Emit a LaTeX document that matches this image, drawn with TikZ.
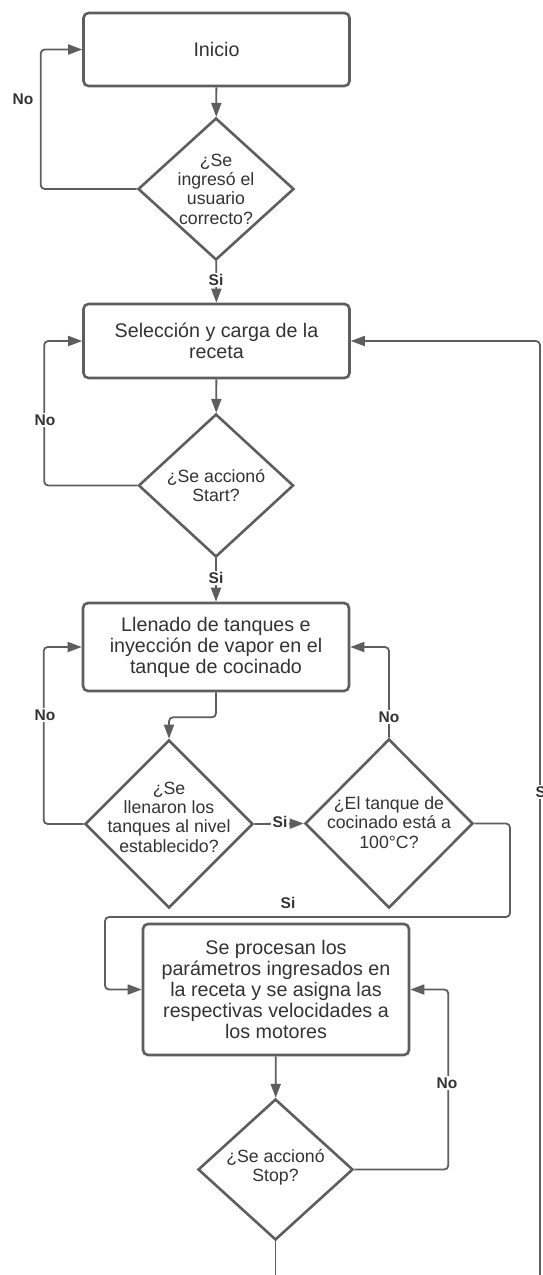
\documentclass[tikz,border=0pt]{standalone}
\usepackage{fontspec}
\setmainfont{Liberation Sans}
\usetikzlibrary{shapes.geometric,arrows.meta}
\definecolor{ln}{HTML}{5E5E5E}
\definecolor{tx}{HTML}{333333}
\begin{document}
\begin{tikzpicture}[x=1pt,y=-1pt,
  procbox/.style={draw=ln, line width=2.6pt, rounded corners=5pt, fill=white, text=tx,
    align=center, minimum width=266pt, inner sep=0pt,
    font=\fontsize{19.7}{21}\selectfont},
  decision/.style={draw=ln, line width=2.6pt, diamond, inner sep=0pt, fill=white},
  dtext/.style={text=tx, align=center, inner sep=0pt,
    font=\fontsize{17.7}{19.3}\selectfont},
  flow/.style={draw=ln, line width=1.8pt, rounded corners=4pt,
    -{Triangle[length=14pt,width=10pt]}},
  plain/.style={draw=ln, line width=1.8pt, rounded corners=4pt},
  lbl/.style={text=tx, fill=white, inner sep=1.5pt,
    font=\bfseries\fontsize{15.5}{17}\selectfont},
]
\fill[white] (0,0) rectangle (542,1275);
\clip (0,0) rectangle (542,1275);

% process boxes
\node[procbox, minimum height=73pt] (b1) at (216.5,49.5) {Inicio};
\node[procbox, minimum height=74pt] (b2) at (216.5,341) {Selección y carga de la\\receta};
\node[procbox, minimum height=88pt] (b3) at (216,647) {Llenado de tanques e\\inyección de vapor en el\\tanque de cocinado};
\node[procbox, minimum height=131pt] (b4) at (276,989.5) {Se procesan los\\parámetros ingresados en\\la receta y se asigna las\\respectivas velocidades a\\los motores};

% decisions
\node[decision, minimum width=156pt, minimum height=142pt] (d1) at (216,189) {};
\node[dtext] (t1) at (d1) {¿Se\\ingresó el\\usuario\\correcto?};
\node[decision, minimum width=155pt, minimum height=143pt] (d2) at (216,485.5) {};
\node[dtext] (t2) at (d2) {¿Se accionó\\Start?};
\node[decision, minimum width=168pt, minimum height=168pt] (d3) at (169,824) {};
\node[dtext, yshift=7pt] (t3) at (d3) {¿Se\\llenaron los\\tanques al nivel\\establecido?};
\node[decision, minimum width=168pt, minimum height=169pt] (d4) at (389,823.5) {};
\node[dtext, yshift=1pt] (t4) at (d4) {¿El tanque de\\cocinado está a\\100°C?};
\node[decision, minimum width=155pt, minimum height=141pt] (d5) at (275.5,1169.5) {};
\node[dtext, yshift=2pt] (t5) at (d5) {¿Se accionó\\Stop?};

% free ends and bends
\coordinate (c1) at (510,917);
\coordinate (c2) at (105,917);
\coordinate (endstop) at (275.5,1285);
\coordinate (endright) at (540,1285);

% connectors
\draw[flow] (b1) -- (d1);
\draw[flow] (d1.west) -- ++(-96,0) |- (b1.west);
\draw[flow] (d1) -- (b2);
\draw[flow] (b2) -- (d2);
\draw[flow] (d2.west) -- ++(-93,0) |- (b2.west);
\draw[flow] (d2) -- (b3);
\draw[flow] (b3.south) -- ++(0,25) -| (d3.north);
\draw[flow] (d3.west) -- ++(-40,0) |- (b3.west);
\draw[flow] (d3.east) -- (d4.west);
\draw[flow] (d4.north) |- (b3.east);
\draw[flow] (d4.east) -| (c1) -- (c2) |- (b4.west);
\draw[flow] (b4) -- (d5);
\draw[flow] (d5.east) -- ++(94,0) |- (b4.east);
\draw[plain] (d5.south) -- (endstop);
\draw[flow] (endright) |- (b2.east);

% branch labels
\node[lbl, fill=none] (n1) at (23,99) {No};
\node[lbl] (s1) at (216,280) {Si};
\node[lbl] (n2) at (45,420) {No};
\node[lbl] (s2) at (216,578) {Si};
\node[lbl] (n3) at (45,715) {No};
\node[lbl] (s3) at (280,822) {Si};
\node[lbl] (n4) at (389,717) {No};
\node[lbl, fill=none] (s4) at (288,903) {Si};
\node[lbl] (n5) at (447,1083) {No};
\node[lbl] (s5) at (543,792) {Si};
\end{tikzpicture}
\end{document}
